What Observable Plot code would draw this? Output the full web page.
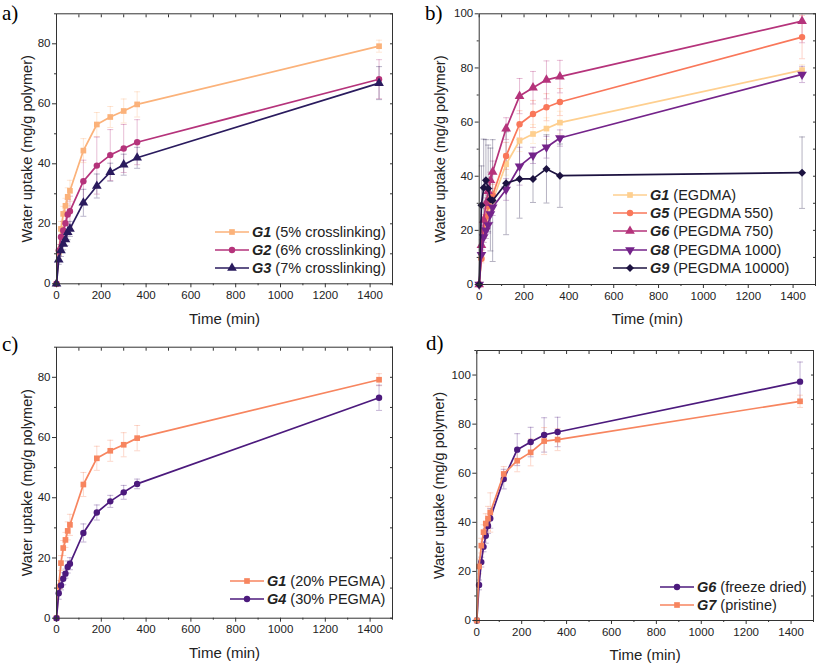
<!DOCTYPE html>
<html><head><meta charset="utf-8">
<script src="https://cdn.jsdelivr.net/npm/d3@7"></script>
<script src="https://cdn.jsdelivr.net/npm/@observablehq/plot@0.6"></script>
<style>
body{margin:0;background:#fff;}
#fig{position:relative;width:817px;height:665px;font-family:"Liberation Sans",Arial,sans-serif;overflow:hidden;}
.pl{position:absolute;}
.lab{position:absolute;font-family:"Liberation Serif","Times New Roman",serif;font-size:21px;color:#000;line-height:1;}
.leg{position:absolute;font-size:14.5px;color:#222;}
.leg .row{display:flex;align-items:center;height:18.2px;white-space:nowrap;}
.leg svg{margin-right:3px;}
.leg b{font-style:italic;}
</style></head><body><div id="fig"></div>
<script>
// ---- data ----
const time = [0, 10, 20, 30, 40, 50, 60, 120, 180, 240, 300, 360, 1440];

const g1 = [0, 10.5, 18.3, 23.3, 26.0, 29.0, 31.0, 44.4, 53.1, 55.6, 57.6, 59.8, 79.2];
const g1Err = [0, 2, 2.5, 2.5, 2.5, 3, 3.5, 4, 4, 3.5, 4, 4.2, 2];
const g2 = [0, 11.1, 15.6, 17.8, 20.2, 23.1, 24.2, 34.2, 39.4, 42.9, 45.1, 47.2, 68.2];
const g2Err = [0, 2, 3, 3, 4, 5, 5, 7, 9.5, 8.5, 8, 7.5, 6.5];
const g3 = [0, 8.0, 11.1, 13.3, 14.8, 17.2, 18.3, 27.0, 32.6, 37.2, 39.7, 42.0, 66.9];
const g3Err = [0, 1.5, 2, 2, 2, 2.5, 2.5, 4.5, 4, 3, 3.5, 3.5, 5.5];
const g4 = [0, 8.3, 10.9, 13.1, 14.8, 17.0, 18.1, 28.3, 35.1, 38.8, 41.8, 44.6, 73.2];
const g4Err = [0, 2, 1.5, 2, 1.5, 2, 2, 3, 2.5, 2, 2.3, 1.6, 4.2];
const g5 = [0, 9.5, 20.0, 25.0, 29.0, 31.5, 33.0, 47.5, 59.2, 63.0, 65.5, 67.4, 91.4];
const g5Err = [0, 1.5, 3, 3, 4, 4, 4, 5, 5, 5, 5, 5, 8];
const g6 = [0, 14.5, 23.8, 30.0, 34.5, 38.5, 41.6, 57.6, 69.6, 72.7, 75.6, 76.8, 97.3];
const g6Err = [0, 2, 2, 2, 3, 3, 4, 4, 6.5, 6, 7, 6, 8];
const g7 = [0, 22.0, 30.5, 36.0, 39.5, 41.5, 44.0, 59.7, 65.1, 68.5, 73.1, 73.7, 89.3];
const g7Err = [0, 3, 3, 3, 4, 5, 8, 3, 4.5, 5.5, 5.5, 4.5, 2.5];
const g8 = [0, 11.0, 17.5, 20.0, 22.0, 26.0, 28.5, 35.1, 43.7, 47.7, 50.7, 54.1, 77.6];
const g8Err = [0, 2, 2, 3, 3, 3, 3, 4, 7, 3, 4, 3, 3];
const g9 = [0, 29.3, 35.7, 38.5, 35.5, 31.4, 31.0, 37.4, 39.0, 39.0, 42.7, 40.2, 41.3];
const g9Err = [0, 14.5, 18, 15, 16, 19, 22.5, 19, 14.5, 8.7, 12.6, 11.7, 13.2];

const xMajor = [0, 200, 400, 600, 800, 1000, 1200, 1400];
const xMinor = [100, 300, 500, 700, 900, 1100, 1300, 1500];

// ---- panels ----
const panels = [
  {label: "a)", labelPos: [2, 3], left: 0, top: 0, width: 408, height: 330, margin: [13.3, 16, 46.7, 56], yMax: 90, titleDx: -29,
   legend: [215, 223],
   series: [
     {name: "G1", note: "(5% crosslinking)", v: g1, e: g1Err, color: "#fbb27a", symbol: "square"},
     {name: "G2", note: "(6% crosslinking)", v: g2, e: g2Err, color: "#b5337b", symbol: "circle"},
     {name: "G3", note: "(7% crosslinking)", v: g3, e: g3Err, color: "#2a1b5e", symbol: "triangle"}
   ]},
  {label: "b)", labelPos: [425, 3], left: 408, top: 0, width: 409, height: 330, margin: [13.3, 2, 46, 70.7], yMax: 100, titleDx: -39,
   legend: [613, 186],
   series: [
     {name: "G1", note: "(EGDMA)", v: g1, e: g1Err, color: "#fecf8f", symbol: "square"},
     {name: "G5", note: "(PEGDMA 550)", v: g5, e: g5Err, color: "#f9775a", symbol: "circle"},
     {name: "G6", note: "(PEGDMA 750)", v: g6, e: g6Err, color: "#b5337b", symbol: "triangle"},
     {name: "G8", note: "(PEGDMA 1000)", v: g8, e: g8Err, color: "#74238a", symbol: "triangle", rotate: 180},
     {name: "G9", note: "(PEGDMA 10000)", v: g9, e: g9Err, color: "#1c1240", symbol: "diamond2"}
   ]},
  {label: "c)", labelPos: [2, 334], left: 0, top: 330, width: 408, height: 335, margin: [16.7, 16, 47.3, 56], yMax: 90, titleDx: -29,
   legend: [230, 571.5],
   series: [
     {name: "G1", note: "(20% PEGMA)", v: g1, e: g1Err, color: "#f7855f", symbol: "square"},
     {name: "G4", note: "(30% PEGMA)", v: g4, e: g4Err, color: "#4c1a7d", symbol: "circle"}
   ]},
  {label: "d)", labelPos: [426, 333], left: 408, top: 330, width: 409, height: 335, margin: [20, 4, 45, 68.3], yMax: 110, titleDx: -37,
   legend: [660, 577.5],
   series: [
     {name: "G6", note: "(freeze dried)", v: g6, e: g6Err, color: "#4c1a7d", symbol: "circle"},
     {name: "G7", note: "(pristine)", v: g7, e: g7Err, color: "#f7855f", symbol: "square"}
   ]}
];

const cap = {draw(ctx) { ctx.moveTo(-3, 0); ctx.lineTo(3, 0); }};
const rFor = s => s.symbol === "triangle" ? 3.6 : s.symbol === "diamond2" ? 3.6 : 3.2;

const fig = document.getElementById("fig");

for (const p of panels) {
  const yMajor = d3.range(0, p.yMax + 0.1, 20);
  const yMinor = d3.range(10, p.yMax + 0.1, 20);
  const marks = [];
  for (const s of p.series) {
    const rows = s.v.map((v, i) => ({t: time[i], v, e: s.e[i], lo: v - s.e[i], hi: v + s.e[i]})).filter(d => d.e > 0);
    marks.push(Plot.ruleX(rows, {x: "t", y1: "lo", y2: "hi", stroke: s.color, strokeOpacity: 0.32, strokeWidth: 1, clip: true}));
    marks.push(Plot.dot(rows, {x: "t", y: "hi", symbol: cap, stroke: s.color, fill: "none", strokeOpacity: 0.32, strokeWidth: 1, clip: true}));
    marks.push(Plot.dot(rows, {x: "t", y: "lo", symbol: cap, stroke: s.color, fill: "none", strokeOpacity: 0.32, strokeWidth: 1, clip: true}));
  }
  for (const s of p.series) {
    const rows = s.v.map((v, i) => ({t: time[i], v}));
    marks.push(Plot.line(rows, {x: "t", y: "v", stroke: s.color, strokeWidth: 1.7}));
    marks.push(Plot.dot(rows, {x: "t", y: "v", symbol: s.symbol, r: rFor(s), fill: s.color, stroke: "none", rotate: s.rotate || 0}));
  }
  marks.push(
    Plot.frame({stroke: "#333", strokeWidth: 1}),
    Plot.axisX({anchor: "bottom", ticks: xMajor, tickSize: 4, tickPadding: 3, tickFormat: d => String(d), label: null, fontSize: 11.5, fill: "#222", stroke: "#333"}),
    Plot.axisX({anchor: "bottom", ticks: xMinor, tickSize: 2, tickFormat: () => "", label: null, stroke: "#333"}),
    Plot.axisX({anchor: "top", ticks: xMajor.concat(xMinor), tickSize: 3, dy: 3, tickFormat: () => "", label: null, stroke: "#333"}),
    Plot.axisY({anchor: "left", ticks: yMajor, tickSize: 4, tickPadding: 2, tickFormat: d => String(d), label: null, fontSize: 11.5, fill: "#222", stroke: "#333"}),
    Plot.axisY({anchor: "left", ticks: yMinor, tickSize: 2, tickFormat: () => "", label: null, stroke: "#333"}),
    Plot.axisY({anchor: "right", ticks: yMajor.concat(yMinor), tickSize: 3, dx: -3, tickFormat: () => "", label: null, stroke: "#333"}),
    Plot.text(["Time (min)"], {frameAnchor: "bottom", dy: 35, lineAnchor: "middle", fontSize: 15, fill: "#222"}),
    Plot.text(["Water uptake (mg/g polymer)"], {frameAnchor: "left", dx: p.titleDx, rotate: -90, lineAnchor: "middle", textAnchor: "middle", fontSize: 14.5, fill: "#222"})
  );
  const chart = Plot.plot({
    width: p.width, height: p.height,
    marginTop: p.margin[0], marginRight: p.margin[1], marginBottom: p.margin[2], marginLeft: p.margin[3],
    x: {domain: [0, 1500]},
    y: {domain: [0, p.yMax]},
    style: {fontFamily: '"Liberation Sans", Arial, sans-serif', background: "transparent", overflow: "visible"},
    marks
  });
  chart.classList.add("pl");
  chart.style.left = p.left + "px";
  chart.style.top = p.top + "px";
  fig.appendChild(chart);

  const lab = document.createElement("div");
  lab.className = "lab";
  lab.textContent = p.label;
  lab.style.left = p.labelPos[0] + "px";
  lab.style.top = p.labelPos[1] + "px";
  fig.appendChild(lab);

  const leg = document.createElement("div");
  leg.className = "leg";
  leg.style.left = p.legend[0] + "px";
  leg.style.top = p.legend[1] + "px";
  for (const s of p.series) {
    const row = document.createElement("div");
    row.className = "row";
    const r = rFor(s);
    const typeMap = {square: d3.symbolSquare, circle: d3.symbolCircle, triangle: d3.symbolTriangle, diamond2: d3.symbolDiamond2};
    const path = d3.symbol(typeMap[s.symbol], Math.PI * r * r)();
    row.innerHTML = `<svg width="34" height="12"><line x1="0" x2="34" y1="6" y2="6" stroke="${s.color}" stroke-width="1.7"/>` +
      `<path d="${path}" transform="translate(17,6) rotate(${s.rotate || 0})" fill="${s.color}"/></svg>` +
      `<span><b>${s.name}</b> ${s.note}</span>`;
    leg.appendChild(row);
  }
  fig.appendChild(leg);
}
</script>
</body></html>
